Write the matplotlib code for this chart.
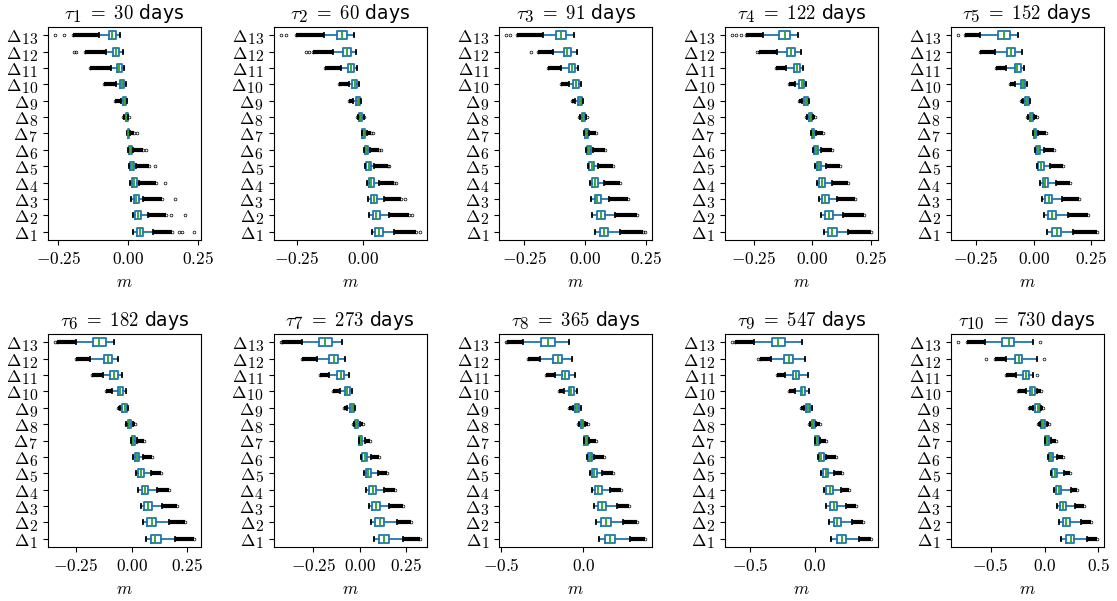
import matplotlib
matplotlib.use('Agg')
import matplotlib.pyplot as plt
import matplotlib._mathtext as mathtext_interno
from matplotlib.ticker import MultipleLocator, FuncFormatter

plt.rcParams['mathtext.fontset'] = 'cm'
plt.rcParams['font.family'] = 'DejaVu Sans'
plt.rcParams['xtick.labelsize'] = 12.5
plt.rcParams['ytick.labelsize'] = 12.5
# subindices casi del mismo tamano que el texto, como en LaTeX a tamanos pequenos
mathtext_interno.SHRINK_FACTOR = 0.9

# horizontes (dias) de cada panel
taus = [30, 60, 91, 122, 152, 182, 273, 365, 547, 730]
etiquetas = [r'$\Delta_{%d}$' % i for i in range(1, 14)]

# estadisticos de cada caja, ordenados Delta_1 ... Delta_13
q1 = [
    [.032, .025, .020, .014, .008, .002, -.002, -.009, -.018, -.030, -.041, -.055, -.070],
    [.046, .037, .031, .021, .012, .006, -.002, -.015, -.028, -.042, -.055, -.074, -.099],
    [.061, .047, .039, .027, .016, .008, .000, -.014, -.030, -.049, -.068, -.089, -.119],
    [.067, .052, .042, .029, .018, .007, -.003, -.015, -.035, -.056, -.080, -.108, -.143],
    [.079, .064, .050, .039, .021, .010, .000, -.017, -.037, -.057, -.083, -.116, -.154],
    [.086, .071, .057, .045, .030, .014, .000, -.017, -.041, -.063, -.095, -.125, -.174],
    [.107, .085, .068, .053, .032, .014, -.004, -.025, -.053, -.080, -.121, -.164, -.222],
    [.134, .110, .090, .070, .050, .026, .006, -.016, -.052, -.090, -.130, -.186, -.256],
    [.172, .146, .121, .090, .064, .033, .005, -.023, -.064, -.110, -.167, -.238, -.333],
    [.198, .167, .139, .108, .071, .040, .006, -.031, -.084, -.139, -.198, -.276, -.393],
]
med = [
    [.043, .034, .028, .022, .014, .007, .000, -.006, -.012, -.022, -.031, -.044, -.057],
    [.062, .050, .040, .031, .021, .012, .002, -.009, -.020, -.032, -.045, -.061, -.079],
    [.077, .064, .050, .039, .026, .015, .005, -.007, -.022, -.038, -.055, -.074, -.099],
    [.086, .070, .055, .042, .028, .015, .003, -.010, -.027, -.045, -.066, -.090, -.118],
    [.100, .081, .066, .051, .034, .020, .006, -.010, -.027, -.047, -.071, -.097, -.130],
    [.108, .090, .075, .059, .042, .024, .008, -.011, -.030, -.051, -.078, -.108, -.146],
    [.133, .109, .089, .071, .046, .027, .005, -.016, -.041, -.068, -.103, -.139, -.187],
    [.164, .138, .114, .092, .066, .040, .016, -.010, -.040, -.074, -.112, -.156, -.216],
    [.208, .174, .146, .115, .085, .051, .018, -.013, -.049, -.095, -.146, -.203, -.282],
    [.241, .198, .167, .130, .093, .059, .022, -.015, -.065, -.115, -.173, -.238, -.331],
]
q3 = [
    [.054, .046, .038, .031, .021, .013, .003, .000, -.006, -.013, -.021, -.033, -.043],
    [.077, .063, .052, .041, .030, .019, .007, -.002, -.011, -.022, -.035, -.047, -.062],
    [.095, .080, .064, .053, .036, .023, .011, -.001, -.014, -.027, -.043, -.058, -.078],
    [.105, .088, .070, .056, .039, .024, .008, -.003, -.017, -.034, -.052, -.073, -.094],
    [.119, .099, .081, .064, .046, .029, .011, -.004, -.019, -.036, -.056, -.079, -.104],
    [.134, .111, .093, .072, .054, .033, .015, -.003, -.020, -.039, -.062, -.087, -.117],
    [.160, .133, .110, .089, .062, .039, .014, -.009, -.030, -.053, -.084, -.116, -.151],
    [.194, .166, .138, .114, .082, .054, .026, -.002, -.026, -.060, -.090, -.132, -.176],
    [.244, .205, .172, .141, .105, .069, .031, .000, -.033, -.072, -.121, -.167, -.231],
    [.272, .232, .195, .155, .115, .077, .037, .000, -.046, -.093, -.146, -.207, -.279],
]
bigote_lo = [
    [.019, .016, .011, .006, .003, -.001, -.005, -.013, -.025, -.045, -.060, -.078, -.105],
    [.032, .024, .020, .014, .009, .004, -.005, -.020, -.037, -.053, -.081, -.112, -.146],
    [.041, .030, .024, .019, .012, .004, -.003, -.020, -.041, -.068, -.099, -.132, -.173],
    [.049, .038, .029, .021, .011, .001, -.006, -.022, -.045, -.073, -.111, -.153, -.211],
    [.057, .046, .036, .027, .016, .006, -.003, -.024, -.047, -.079, -.119, -.169, -.233],
    [.063, .051, .041, .030, .018, .008, -.003, -.023, -.050, -.087, -.129, -.185, -.252],
    [.077, .062, .050, .036, .023, .009, -.005, -.032, -.066, -.107, -.164, -.231, -.311],
    [.098, .080, .066, .054, .038, .020, .002, -.026, -.062, -.116, -.176, -.266, -.366],
    [.128, .110, .090, .069, .051, .026, .000, -.036, -.082, -.154, -.231, -.338, -.467],
    [.149, .130, .111, .087, .056, .028, .000, -.043, -.105, -.176, -.269, -.353, -.548],
]
bigote_hi = [
    [.088, .072, .054, .040, .028, .017, .008, .001, -.003, -.008, -.013, -.017, -.028],
    [.115, .099, .078, .062, .040, .027, .014, .002, -.009, -.015, -.024, -.027, -.035],
    [.142, .122, .097, .077, .053, .032, .016, .005, -.009, -.019, -.028, -.035, -.045],
    [.154, .131, .107, .086, .060, .035, .015, .004, -.014, -.027, -.038, -.048, -.062],
    [.171, .150, .124, .096, .070, .046, .019, .003, -.016, -.027, -.040, -.051, -.069],
    [.198, .168, .138, .113, .086, .051, .026, .006, -.015, -.027, -.045, -.062, -.077],
    [.235, .201, .160, .133, .098, .059, .028, .000, -.025, -.043, -.060, -.077, -.093],
    [.284, .244, .204, .164, .114, .068, .034, .010, -.016, -.036, -.052, -.070, -.090],
    [.341, .290, .244, .205, .146, .090, .044, .013, -.023, -.044, -.056, -.077, -.097],
    [.396, .334, .279, .241, .180, .118, .056, .019, -.031, -.068, -.105, -.068, -.108],
]

# extremo de la franja densa de atipicos (None = sin franja)
franja_lo = [
    [None] * 7 + [-.017, -.046, -.087, -.135, -.155, -.198],
    [None] * 7 + [-.024, -.052, -.090, -.143, -.188, -.254],
    [None] * 7 + [-.024, -.054, -.099, -.153, -.193, -.281],
    [None] * 7 + [-.027, -.059, -.101, -.157, -.228, -.284],
    [None] * 7 + [-.028, -.054, -.101, -.164, -.233, -.297],
    [None] * 7 + [-.027, -.060, -.114, -.177, -.249, -.335],
    [None] * 7 + [-.036, -.084, -.142, -.217, -.311, -.418],
    [None] * 7 + [-.030, -.086, -.150, -.230, -.336, -.466],
    [None] * 7 + [-.045, -.110, -.197, -.295, -.423, -.615],
    [None] * 7 + [-.062, -.146, -.248, -.353, -.455, -.718],
]
franja_hi = [
    [.159, .135, .123, .100, .076, .052, .022, .003] + [None] * 5,
    [.198, .173, .143, .118, .093, .062, .031, .005] + [None] * 5,
    [.239, .212, .178, .145, .115, .081, .043, .009] + [None] * 5,
    [.251, .222, .184, .152, .119, .084, .046, .011] + [None] * 5,
    [.274, .236, .196, .160, .127, .089, .053, .013] + [None] * 5,
    [.281, .243, .206, .171, .134, .093, .056, .015] + [None] * 5,
    [.324, .279, .235, .192, .148, .103, .057, .018] + [None] * 5,
    [.378, .328, .278, .228, .178, .128, .078, .030] + [None] * 5,
    [.436, .377, .321, .269, .213, .167, .090, .038] + [None] * 5,
    [.483, .427, .365, .297, .235, .173, .102, .040, -.012, -.037, None, None, None],
]

# atipicos sueltos
sueltos = [
    [[.183, .192, .236], [.153, .203], [.167], [.133], [.097], [.064], [.032], [], [], [], [], [-.195, -.185], [-.262, -.230]],
    [[.213], [.183], [.157], [.126], [.099], [.068], [.037], [], [], [], [], [-.213, -.205], [-.310, -.290]],
    [[.247], [], [], [], [], [], [], [], [], [], [], [-.223], [-.324, -.308]],
    [[], [], [], [], [], [], [], [], [], [], [], [-.237], [-.344, -.326, -.305]],
    [[], [], [], [], [], [], [], [], [], [], [], [], [-.330]],
    [[], [], [], [], [], [], [], [], [], [], [], [], [-.345]],
    [[], [], [], [], [], [], [], [], [], [], [], [], [-.427]],
    [[], [], [], [], [], [], [], [], [], [], [], [], [-.470]],
    [[], [], [], [], [], [], [], [], [], [], [], [-.441], [-.641]],
    [[], [], [], [], [], [], [], [], [], [], [-.068], [-.539, -.006], [-.805, -.043]],
]


def fmt(x, pos, dec):
    if abs(x) < 1e-9:
        x = 0.0
    return '$%.*f$' % (dec, x)


fig, axes = plt.subplots(2, 5, figsize=(11.17, 6.01), dpi=100)
fig.subplots_adjust(left=0.043, right=0.988, top=0.955, bottom=0.090,
                    wspace=0.477, hspace=0.443)

for k, ax in enumerate(axes.flat):
    cajas = []
    for j in range(13):
        fl = [v for v in (franja_lo[k][j], franja_hi[k][j]) if v is not None]
        cajas.append(dict(med=med[k][j], q1=q1[k][j], q3=q3[k][j],
                          whislo=bigote_lo[k][j], whishi=bigote_hi[k][j],
                          fliers=fl + sueltos[k][j], label=etiquetas[j]))
    ax.bxp(cajas, positions=range(1, 14), widths=0.5, orientation='horizontal',
           boxprops=dict(color='C0', lw=1.3), whiskerprops=dict(color='C0', lw=1.3),
           capprops=dict(color='k', lw=1.3), medianprops=dict(color='C2', lw=1.3),
           flierprops=dict(marker='o', markersize=2, markerfacecolor='none',
                           markeredgecolor='k', markeredgewidth=0.5))
    # franjas de atipicos muy juntos
    for j in range(13):
        if franja_lo[k][j] is not None:
            ax.hlines(j + 1, franja_lo[k][j], bigote_lo[k][j], color='k', lw=3, zorder=1)
        if franja_hi[k][j] is not None:
            ax.hlines(j + 1, bigote_hi[k][j], franja_hi[k][j], color='k', lw=3, zorder=1)

    dec = 2 if k < 7 else 1
    ax.xaxis.set_major_locator(MultipleLocator(0.25 if k < 7 else 0.5))
    ax.xaxis.set_major_formatter(FuncFormatter(lambda x, p, d=dec: fmt(x, p, d)))
    ax.set_title(r'$\tau_{%d}\ {=}\ %d$ days' % (k + 1, taus[k]), fontsize=13.5)
    ax.set_xlabel(r'$m$', fontsize=12.5)

fig.savefig('out.png', dpi=100)
